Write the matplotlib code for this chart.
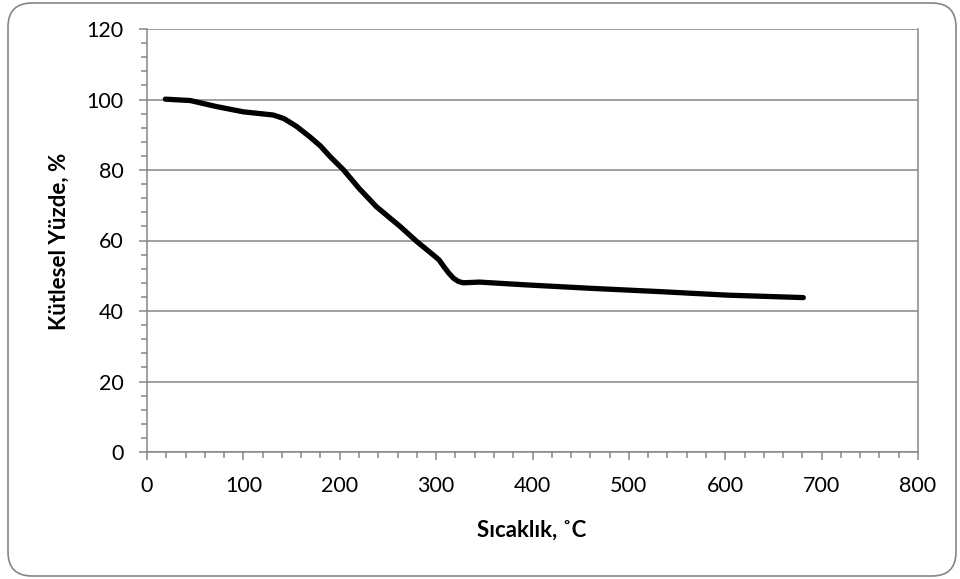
import matplotlib
matplotlib.use("Agg")
import matplotlib.pyplot as plt
from matplotlib.patches import FancyBboxPatch
from matplotlib.ticker import MultipleLocator

plt.rcParams['font.family'] = ['Lato', 'DejaVu Sans']

# Thermogravimetric curve: temperature (°C) vs. mass percentage
temperature = [19, 45, 72, 100, 131, 142, 155, 169, 180, 190, 204, 220, 238,
               263, 280, 297, 303, 308, 313, 318, 323, 328, 345, 394, 463, 532,
               602, 681]
mass_pct = [100.1, 99.7, 98.0, 96.5, 95.6, 94.6, 92.4, 89.4, 86.8, 83.8, 80.0,
            74.8, 69.6, 63.9, 59.7, 55.9, 54.5, 52.6, 50.8, 49.3, 48.4, 48.0,
            48.2, 47.4, 46.4, 45.5, 44.5, 43.8]

x_label = "Sıcaklık, ˚C"
y_label = "Kütlesel Yüzde, %"

grey = "#868686"

fig = plt.figure(figsize=(9.6, 5.79), dpi=100)
ax = fig.add_axes([147 / 960, 1 - 452 / 579, (918 - 147) / 960, (452 - 29) / 579])

ax.plot(temperature, mass_pct, color="black", linewidth=3.8,
        solid_capstyle="round", solid_joinstyle="round", zorder=3)

ax.set_xlim(0, 800)
ax.set_ylim(0, 120)
ax.xaxis.set_major_locator(MultipleLocator(100))
ax.xaxis.set_minor_locator(MultipleLocator(20))
ax.yaxis.set_major_locator(MultipleLocator(20))
ax.yaxis.set_minor_locator(MultipleLocator(4))

ax.grid(axis="y", which="major", color=grey, linewidth=1.1)
ax.set_axisbelow(True)

for side in ["left", "bottom", "right", "top"]:
    ax.spines[side].set_color(grey)
    ax.spines[side].set_linewidth(1.1)
ax.spines["top"].set_visible(False)

ax.tick_params(which="major", direction="out", length=6, width=1.1, color=grey,
               labelsize=15.5, labelcolor="black")
ax.tick_params(which="minor", direction="out", length=4, width=1.1, color=grey)
ax.tick_params(axis="x", which="major", pad=11)
ax.tick_params(axis="y", which="major", pad=11)

# Axis titles
fig.text(532 / 960, 1 - 530 / 579, x_label, fontsize=16, fontweight="bold",
         ha="center", va="center")
fig.text(59 / 960, 1 - 241 / 579, y_label, fontsize=16, fontweight="bold",
         ha="center", va="center", rotation=90)

# Rounded frame around the whole chart
frame = FancyBboxPatch((8 / 960, 3 / 579), 948 / 960, 573 / 579,
                       boxstyle="round,pad=0,rounding_size=0.025",
                       transform=fig.transFigure, facecolor="none",
                       edgecolor=grey, linewidth=1.2, mutation_aspect=960 / 579)
fig.patches.append(frame)

fig.savefig("out.png", dpi=100)
